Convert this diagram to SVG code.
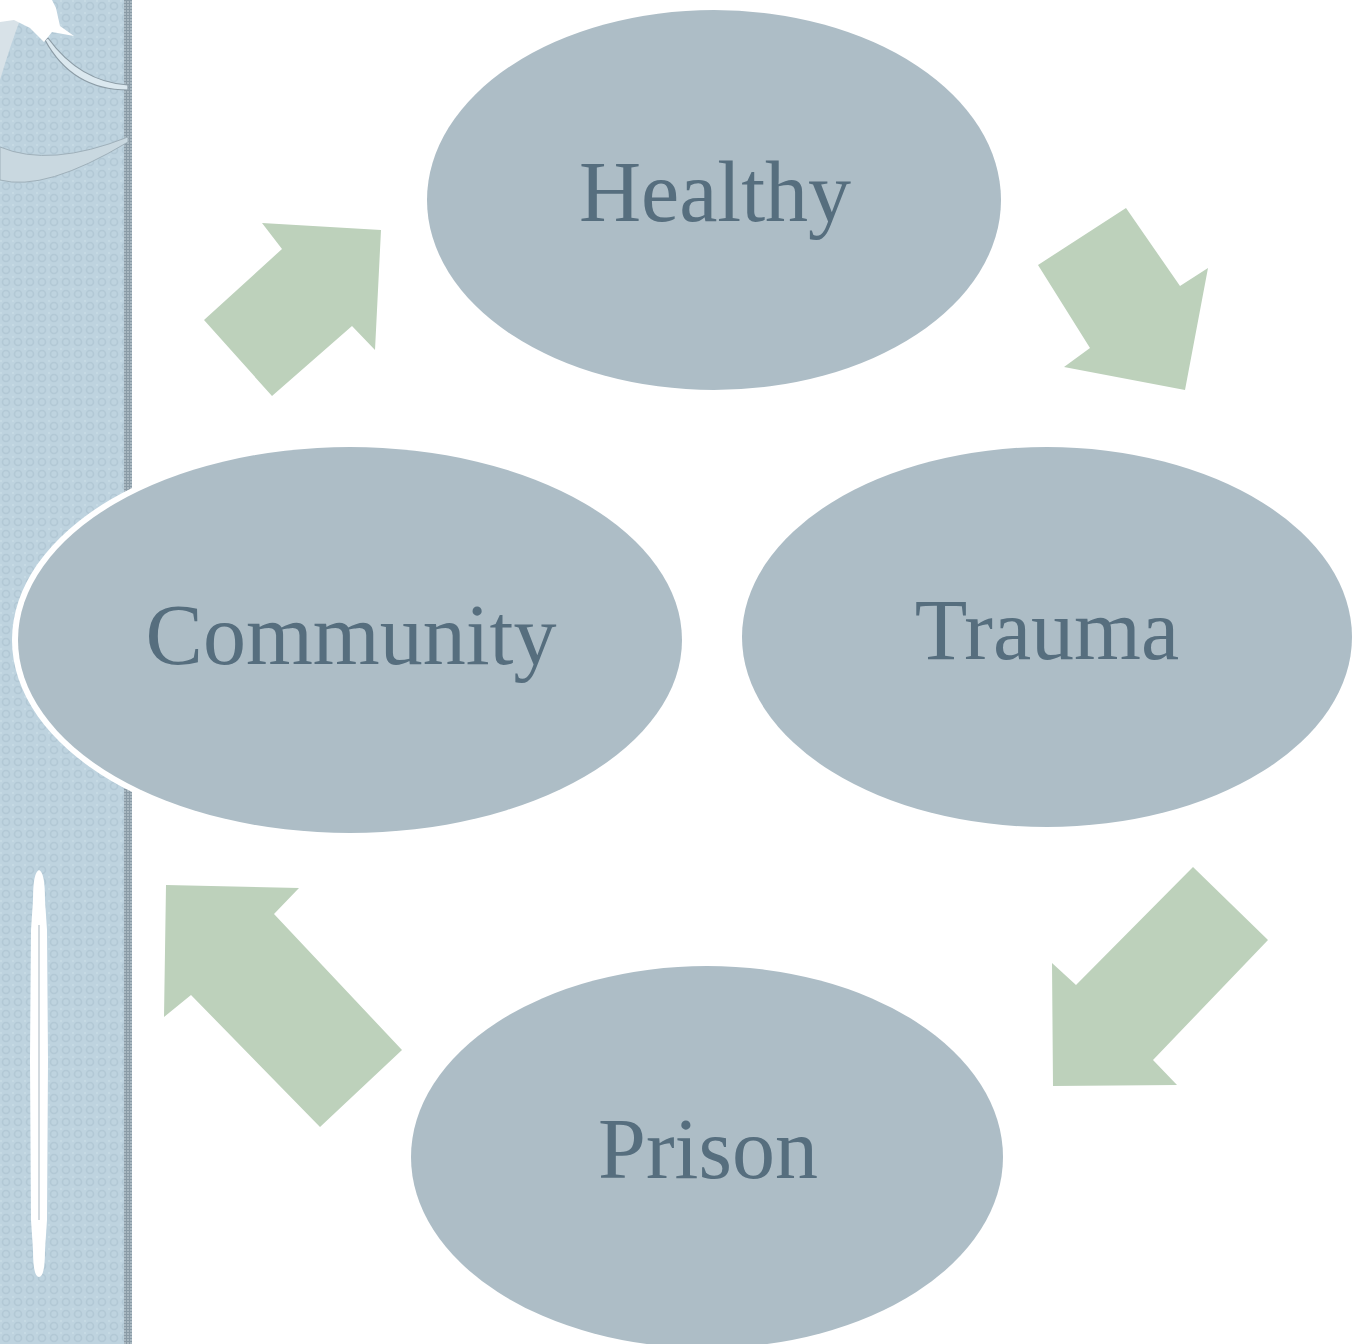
<svg xmlns="http://www.w3.org/2000/svg" width="1362" height="1344" viewBox="0 0 1362 1344">
<defs>
<style>
.node{fill:#adbdc6;}
.lbl{font-family:"Liberation Serif","Times New Roman",serif;font-size:86px;fill:#566e7e;text-anchor:middle;}
.arrow{fill:#bdd1bb;}
</style>
<pattern id="dots" width="12" height="12" patternUnits="userSpaceOnUse">
<rect width="12" height="12" fill="#bed3df"/>
<circle cx="6" cy="6" r="3.5" fill="none" stroke="#b2c8d5" stroke-width="1.6"/>
<rect x="0" y="0" width="2" height="2" fill="#c6dae4"/>
</pattern>
<pattern id="grid" width="3" height="3" patternUnits="userSpaceOnUse">
<rect width="3" height="3" fill="#a9b8c1"/>
<rect width="1" height="3" fill="#8a9ba6"/>
<rect width="3" height="1" fill="#8a9ba6"/>
</pattern>
</defs>
<rect width="1362" height="1344" fill="#ffffff"/>
<g id="sidebar">
<rect x="0" y="0" width="124" height="1344" fill="url(#dots)"/>
<rect x="124" y="0" width="8" height="1344" fill="url(#grid)"/>
<path d="M0,147 Q50,168 128,137 L128,142 Q45,192 0,180 Z" fill="#c9d8e0" stroke="#9fb0ba" stroke-width="1"/>
<path d="M48,38 Q80,82 128,85 L128,90 Q72,90 45,40 Z" fill="#dbe8ef" stroke="#8c9ca6" stroke-width="1.2"/>
<path d="M0,20 L22,15 Q12,40 0,80 Z" fill="#d8e2e8"/>
<path d="M0,0 L52,0 L56,8 L60,26 L74,36 L52,32 L44,42 L30,28 L14,20 L0,22 Z" fill="#ffffff"/>
<path d="M39,870 Q45,872 45,900 L47,930 L48,1060 L47,1220 L45,1250 Q45,1277 39,1277 Q33,1277 33,1250 L31,1220 L30,1060 L31,930 L33,900 Q33,872 39,870 Z" fill="#ffffff"/>
<line x1="39" y1="925" x2="39" y2="1220" stroke="#c4ced4" stroke-width="1.5"/>
</g>
<g id="connectors">
<polygon class="arrow" points="262,223 381,230 375,350 352,326 272,396 204,320 282,249"/>
<polygon class="arrow" points="1126,208 1180,286 1208,268 1185,390 1064,367 1090,348 1038,265"/>
<polygon class="arrow" points="1193,867 1268,940 1153,1060 1177,1085 1053,1086 1052,963 1076,985"/>
<polygon class="arrow" points="166,885 299,888 274,914 402,1050 320,1127 191,995 164,1017"/>
</g>
<g id="node-healthy">
<ellipse class="node" cx="714" cy="200" rx="287" ry="190"/>
<text class="lbl" x="715" y="221">Healthy</text>
</g>
<g id="node-trauma">
<ellipse class="node" cx="1047" cy="637" rx="305" ry="190"/>
<text class="lbl" x="1047" y="659">Trauma</text>
</g>
<g id="node-prison">
<ellipse class="node" cx="707" cy="1157" rx="296" ry="191"/>
<text class="lbl" x="708" y="1178">Prison</text>
</g>
<g id="node-community">
<ellipse cx="350" cy="640" rx="338" ry="199" fill="#ffffff"/>
<ellipse class="node" cx="350" cy="640" rx="332" ry="193"/>
<text class="lbl" x="351" y="664">Community</text>
</g>
</svg>
